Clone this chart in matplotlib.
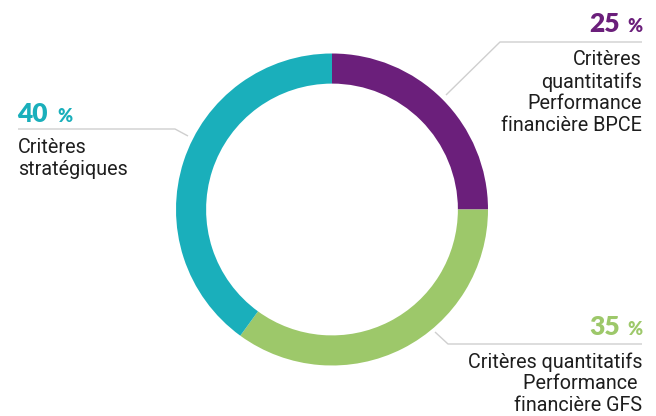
import matplotlib.pyplot as plt

# donut data (clockwise from the top)
shares = [25, 35, 40]
colors = ['#6b1f7b', '#9dc86a', '#1aafbb']
pct_labels = ['25', '35', '40']
descriptions = [
    'Critères\nquantitatifs\nPerformance\nfinancière BPCE',
    'Critères quantitatifs\nPerformance \nfinancière GFS',
    'Critères\nstratégiques',
]

W, H = 656, 416
fig = plt.figure(figsize=(W / 100, H / 100), dpi=100)

# donut axes, center (332, 209.5) px, outer radius 156 px
cx, cy, r = 332, 209.5, 156
ax_pie = fig.add_axes([(cx - r) / W, (H - cy - r) / H, 2 * r / W, 2 * r / H])
ax_pie.pie(shares, colors=colors, startangle=90, counterclock=False,
           wedgeprops=dict(width=0.193, linewidth=0))
ax_pie.set_xlim(-1, 1)
ax_pie.set_ylim(-1, 1)
ax_pie.axis('off')

# overlay in pixel coordinates for labels and leader lines
ax = fig.add_axes([0, 0, 1, 1], zorder=3)
ax.set_xlim(0, W)
ax.set_ylim(H, 0)
ax.axis('off')
ax.patch.set_alpha(0)

line_kw = dict(color='#cfcfcf', lw=1, solid_capstyle='butt')
ax.plot([446, 500, 642], [95, 42, 42], **line_kw)
ax.plot([435, 448, 642], [332, 344, 344], **line_kw)
ax.plot([18, 175, 188], [129, 129, 136], **line_kw)

num_kw = dict(fontfamily='Lato', fontweight='heavy', fontsize=19, va='baseline')
pct_kw = dict(fontfamily='Lato', fontweight='heavy', fontsize=13, va='baseline')
body_kw = dict(fontfamily='Roboto', fontsize=14.2, color='#1e1e1e', va='baseline',
               linespacing=1.18)

# top right - 25 %
ax.text(620, 32, pct_labels[0], ha='right', color=colors[0], **num_kw)
ax.text(642, 32, '%', ha='right', color=colors[0], **pct_kw)
ax.text(642, 131, descriptions[0], ha='right', multialignment='right', **body_kw)

# bottom right - 35 %
ax.text(620, 335, pct_labels[1], ha='right', color=colors[1], **num_kw)
ax.text(642, 335, '%', ha='right', color=colors[1], **pct_kw)
ax.text(642, 411, descriptions[1], ha='right', multialignment='right', **body_kw)

# left - 40 %
ax.text(17, 122, pct_labels[2], ha='left', color=colors[2], **num_kw)
ax.text(57, 122, '%', ha='left', color=colors[2], **pct_kw)
ax.text(18, 175, descriptions[2], ha='left', multialignment='left', **body_kw)

fig.savefig('out.png', dpi=100)
